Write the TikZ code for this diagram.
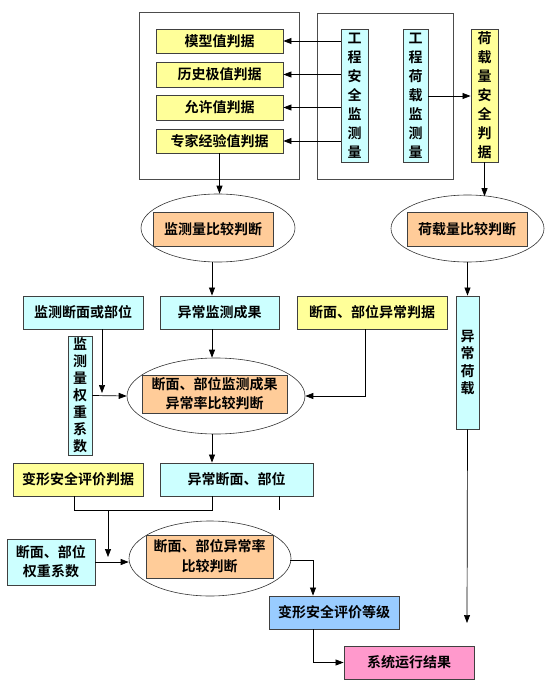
\documentclass[tikz,border=0pt]{standalone}
\usepackage{fontspec}
\setmainfont{Noto Sans CJK SC}[BoldFont={* Bold}]
\usetikzlibrary{arrows.meta,shapes.geometric,calc}
\definecolor{cyel}{HTML}{FFFF99}
\definecolor{ccya}{HTML}{CCFFFF}
\definecolor{cora}{HTML}{FFCC99}
\definecolor{cblu}{HTML}{99CCFF}
\definecolor{cpnk}{HTML}{FF99CC}
\begin{document}
\begin{tikzpicture}[x=1pt,y=-1pt,
  box/.style={draw=black!75,line width=0.9pt,inner sep=0pt,align=center,
    font=\fontsize{14}{19}\selectfont\bfseries},
  yel/.style={box,fill=cyel},
  cya/.style={box,fill=ccya},
  ora/.style={box,fill=cora},
  frame/.style={draw=black!70,line width=0.7pt,inner sep=0pt},
  ell/.style={ellipse,draw=black!80,line width=0.6pt,inner sep=0pt},
  ln/.style={draw=black,line width=0.7pt},
  arr/.style={ln,-{Triangle[length=8pt,width=6pt]}},
  sz/.style n args={2}{minimum width=#1,minimum height=#2}]
\useasboundingbox (0,0) rectangle (547,693);
% frames
\node[frame,sz={160pt}{167pt}] (lbox) at (219,96) {};
\node[frame,sz={136pt}{166pt}] (rbox) at (385,96) {};
% top yellow boxes
\node[yel,sz={127pt}{24pt}] (y1) at (219.5,41) {模型值判据};
\node[yel,sz={127pt}{25pt}] (y2) at (219.5,74.5) {历史极值判据};
\node[yel,sz={127pt}{25pt}] (y3) at (219.5,107.5) {允许值判据};
\node[yel,sz={127pt}{24pt}] (y4) at (219.5,141) {专家经验值判据};
\node[cya,sz={27pt}{133pt}] (c1) at (354.5,96) {工\\程\\安\\全\\监\\测\\量};
\node[cya,sz={25pt}{133pt}] (c2) at (415.5,96) {工\\程\\荷\\载\\监\\测\\量};
\node[yel,sz={27pt}{133pt}] (y5) at (484.5,95.5) {荷\\载\\量\\安\\全\\判\\据};
% ellipses row 1
\node[ell,sz={154pt}{68pt}] (e1) at (218,228) {};
\node[ora,sz={120pt}{34pt}] (o1) at (213,229) {监测量比较判断};
\node[ell,sz={153pt}{67pt}] (e2) at (467.5,228.5) {};
\node[ora,sz={120pt}{34pt}] (o2) at (467,229) {荷载量比较判断};
% row 2
\node[cya,sz={23pt}{133pt},font=\fontsize{14}{17.5}\selectfont\bfseries] (c3) at (467.5,362.5) {异\\常\\荷\\载};
\node[cya,sz={120pt}{33pt}] (c4) at (83,312.5) {监测断面或部位};
\node[cya,sz={119pt}{33pt}] (c5) at (219.5,312.5) {异常监测成果};
\node[yel,sz={150pt}{33pt}] (y6) at (372,312.5) {断面、部位异常判据};
\node[cya,sz={24pt}{119pt},font=\fontsize{14}{17}\selectfont\bfseries] (c6) at (80,395.5) {监\\测\\量\\权\\重\\系\\数};
\node[ell,sz={178pt}{76pt}] (e3) at (216,396) {};
\node[ora,sz={145pt}{38pt}] (o3) at (214.5,394) {断面、部位监测成果\\异常率比较判断};
% row 3
\node[yel,sz={130pt}{33pt}] (y7) at (78,479.5) {变形安全评价判据};
\node[cya,sz={153pt}{33pt}] (c7) at (236.5,479.5) {异常断面、部位};
\node[cya,sz={88pt}{46pt}] (c8) at (51,562) {断面、部位\\权重系数};
\node[ell,sz={162pt}{75pt}] (e4) at (210,558.5) {};
\node[ora,sz={127pt}{43pt},font=\fontsize{14}{20}\selectfont\bfseries] (o4) at (209.5,556.5) {断面、部位异常率\\比较判断};
\node[box,fill=cblu,sz={130pt}{33pt}] (b1) at (334,612.5) {变形安全评价等级};
\node[box,fill=cpnk,sz={130pt}{33pt}] (p1) at (409,662.5) {系统运行结果};
% connectors top
\foreach \t in {y1,y2,y3,y4}{\draw[arr] (c1.west |- \t.east) -- (\t.east);}
\draw[arr] (c2.east) -- (c2.east -| y5.west);
\draw[arr] (y4.south) -- (y4.south |- e1.north);
\draw[arr] (y5.south) -- ($(y5.south |- e2.north)+(0,1.5)$);
\draw[arr] ([xshift=-6pt]e1.south) -- ([xshift=-6pt]e1.south |- c5.north);
\draw[arr] (e2.south) -- (e2.south |- c3.north);
\coordinate (c3end) at (467,623);
\draw[arr] (c3.south) -- (c3end);
% row 2 connectors
\draw[arr] ([xshift=-7.5pt]c5.south) -- ([xshift=-7.5pt]c5.south |- e3.north);
\coordinate (c4end) at (102,393);
\draw[arr] ([xshift=19pt]c4.south) -- (c4end);
\draw[arr] (c6.east) -- (e3.west);
\draw[arr] ([xshift=-7pt]y6.south) |- (e3.east);
\draw[arr] ([xshift=-4pt]e3.south) -- ([xshift=-4pt]e3.south |- c7.north);
% row 3 connectors
\coordinate (j1) at (74,510);
\coordinate (j2) at (212,510);
\draw[ln] ([xshift=-4pt]y7.south) -- (j1) -- (j2) -- (j2 |- c7.south);
\coordinate (hang) at (279,510);
\draw[ln] (hang |- c7.south) -- (hang);
\coordinate (j3) at (108,510);
\coordinate (j3end) at (108,557);
\draw[arr] (j3) -- (j3end);
\draw[arr] (c8.east) -- (c8.east -| e4.west);
\draw[arr] ($(e4.east)+(-1,2)$) -| ([xshift=-21pt]b1.north);
\draw[arr] ([xshift=-21pt]b1.south) |- (p1.west);
\end{tikzpicture}
\end{document}
